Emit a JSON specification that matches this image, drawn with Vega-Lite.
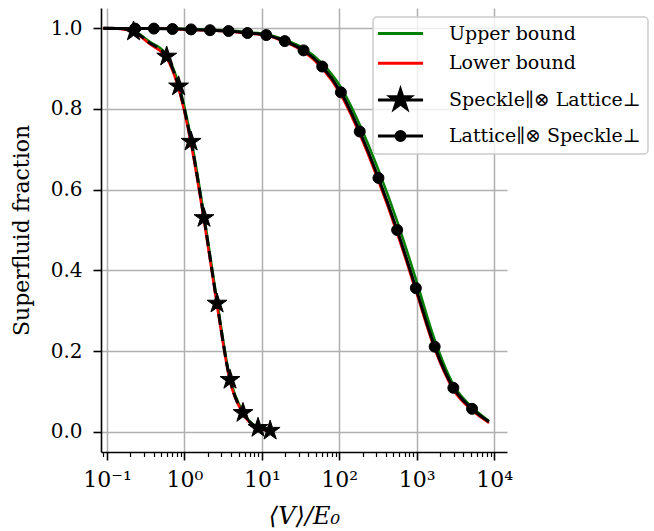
{
  "$schema": "https://vega.github.io/schema/vega-lite/v6.json",
  "autosize": {"type": "none"},
  "width": 406,
  "height": 444,
  "padding": {"left": 101, "top": 8, "right": 147, "bottom": 79},
  "background": "white",
  "config": {
    "view": {"stroke": null},
    "font": "DejaVu Serif",
    "axis": {"labelFont": "DejaVu Serif", "titleFont": "DejaVu Serif"},
    "legend": {"labelFont": "DejaVu Serif"}
  },
  "datasets": {
    "curves": [
      {"curve": "upper", "group": "A", "x": 0.09, "y": 1.0},
      {"curve": "upper", "group": "A", "x": 0.15, "y": 0.999},
      {"curve": "upper", "group": "A", "x": 0.22, "y": 0.993},
      {"curve": "upper", "group": "A", "x": 0.36, "y": 0.966},
      {"curve": "upper", "group": "A", "x": 0.59, "y": 0.934},
      {"curve": "upper", "group": "A", "x": 0.84, "y": 0.862},
      {"curve": "upper", "group": "A", "x": 1.22, "y": 0.726},
      {"curve": "upper", "group": "A", "x": 1.79, "y": 0.537},
      {"curve": "upper", "group": "A", "x": 2.64, "y": 0.324},
      {"curve": "upper", "group": "A", "x": 3.88, "y": 0.133},
      {"curve": "upper", "group": "A", "x": 5.71, "y": 0.049},
      {"curve": "upper", "group": "A", "x": 8.93, "y": 0.011},
      {"curve": "upper", "group": "A", "x": 12.8, "y": 0.003},
      {"curve": "lower", "group": "A", "x": 0.09, "y": 1.0},
      {"curve": "lower", "group": "A", "x": 0.15, "y": 0.998},
      {"curve": "lower", "group": "A", "x": 0.22, "y": 0.990},
      {"curve": "lower", "group": "A", "x": 0.36, "y": 0.960},
      {"curve": "lower", "group": "A", "x": 0.59, "y": 0.926},
      {"curve": "lower", "group": "A", "x": 0.84, "y": 0.850},
      {"curve": "lower", "group": "A", "x": 1.22, "y": 0.712},
      {"curve": "lower", "group": "A", "x": 1.79, "y": 0.523},
      {"curve": "lower", "group": "A", "x": 2.64, "y": 0.312},
      {"curve": "lower", "group": "A", "x": 3.88, "y": 0.125},
      {"curve": "lower", "group": "A", "x": 5.71, "y": 0.045},
      {"curve": "lower", "group": "A", "x": 8.93, "y": 0.009},
      {"curve": "lower", "group": "A", "x": 12.8, "y": 0.002},
      {"curve": "data", "group": "A", "x": 0.09, "y": 1.0},
      {"curve": "data", "group": "A", "x": 0.15, "y": 0.999},
      {"curve": "data", "group": "A", "x": 0.22, "y": 0.992},
      {"curve": "data", "group": "A", "x": 0.36, "y": 0.963},
      {"curve": "data", "group": "A", "x": 0.59, "y": 0.930},
      {"curve": "data", "group": "A", "x": 0.84, "y": 0.856},
      {"curve": "data", "group": "A", "x": 1.22, "y": 0.719},
      {"curve": "data", "group": "A", "x": 1.79, "y": 0.530},
      {"curve": "data", "group": "A", "x": 2.64, "y": 0.318},
      {"curve": "data", "group": "A", "x": 3.88, "y": 0.129},
      {"curve": "data", "group": "A", "x": 5.71, "y": 0.047},
      {"curve": "data", "group": "A", "x": 8.93, "y": 0.010},
      {"curve": "data", "group": "A", "x": 12.8, "y": 0.003},
      {"curve": "upper", "group": "B", "x": 0.09, "y": 1.0},
      {"curve": "upper", "group": "B", "x": 0.23, "y": 1.0},
      {"curve": "upper", "group": "B", "x": 0.403, "y": 1.0},
      {"curve": "upper", "group": "B", "x": 0.701, "y": 0.999},
      {"curve": "upper", "group": "B", "x": 1.22, "y": 0.998},
      {"curve": "upper", "group": "B", "x": 2.14, "y": 0.996},
      {"curve": "upper", "group": "B", "x": 3.72, "y": 0.994},
      {"curve": "upper", "group": "B", "x": 6.52, "y": 0.990},
      {"curve": "upper", "group": "B", "x": 11.4, "y": 0.985},
      {"curve": "upper", "group": "B", "x": 19.8, "y": 0.971},
      {"curve": "upper", "group": "B", "x": 34.6, "y": 0.950},
      {"curve": "upper", "group": "B", "x": 60.3, "y": 0.913},
      {"curve": "upper", "group": "B", "x": 105, "y": 0.854},
      {"curve": "upper", "group": "B", "x": 184, "y": 0.761},
      {"curve": "upper", "group": "B", "x": 321, "y": 0.649},
      {"curve": "upper", "group": "B", "x": 560, "y": 0.522},
      {"curve": "upper", "group": "B", "x": 977, "y": 0.379},
      {"curve": "upper", "group": "B", "x": 1710, "y": 0.228},
      {"curve": "upper", "group": "B", "x": 2980, "y": 0.117},
      {"curve": "upper", "group": "B", "x": 5200, "y": 0.061},
      {"curve": "upper", "group": "B", "x": 8600, "y": 0.027},
      {"curve": "lower", "group": "B", "x": 0.09, "y": 1.0},
      {"curve": "lower", "group": "B", "x": 0.23, "y": 0.999},
      {"curve": "lower", "group": "B", "x": 0.403, "y": 0.999},
      {"curve": "lower", "group": "B", "x": 0.701, "y": 0.998},
      {"curve": "lower", "group": "B", "x": 1.22, "y": 0.996},
      {"curve": "lower", "group": "B", "x": 2.14, "y": 0.994},
      {"curve": "lower", "group": "B", "x": 3.72, "y": 0.992},
      {"curve": "lower", "group": "B", "x": 6.52, "y": 0.987},
      {"curve": "lower", "group": "B", "x": 11.4, "y": 0.982},
      {"curve": "lower", "group": "B", "x": 19.8, "y": 0.966},
      {"curve": "lower", "group": "B", "x": 34.6, "y": 0.942},
      {"curve": "lower", "group": "B", "x": 60.3, "y": 0.900},
      {"curve": "lower", "group": "B", "x": 105, "y": 0.835},
      {"curve": "lower", "group": "B", "x": 184, "y": 0.737},
      {"curve": "lower", "group": "B", "x": 321, "y": 0.621},
      {"curve": "lower", "group": "B", "x": 560, "y": 0.492},
      {"curve": "lower", "group": "B", "x": 977, "y": 0.349},
      {"curve": "lower", "group": "B", "x": 1710, "y": 0.205},
      {"curve": "lower", "group": "B", "x": 2980, "y": 0.104},
      {"curve": "lower", "group": "B", "x": 5200, "y": 0.053},
      {"curve": "lower", "group": "B", "x": 8600, "y": 0.022},
      {"curve": "data", "group": "B", "x": 0.09, "y": 1.0},
      {"curve": "data", "group": "B", "x": 0.23, "y": 0.999},
      {"curve": "data", "group": "B", "x": 0.403, "y": 0.999},
      {"curve": "data", "group": "B", "x": 0.701, "y": 0.998},
      {"curve": "data", "group": "B", "x": 1.22, "y": 0.997},
      {"curve": "data", "group": "B", "x": 2.14, "y": 0.995},
      {"curve": "data", "group": "B", "x": 3.72, "y": 0.993},
      {"curve": "data", "group": "B", "x": 6.52, "y": 0.988},
      {"curve": "data", "group": "B", "x": 11.4, "y": 0.983},
      {"curve": "data", "group": "B", "x": 19.8, "y": 0.968},
      {"curve": "data", "group": "B", "x": 34.6, "y": 0.945},
      {"curve": "data", "group": "B", "x": 60.3, "y": 0.905},
      {"curve": "data", "group": "B", "x": 105, "y": 0.841},
      {"curve": "data", "group": "B", "x": 184, "y": 0.744},
      {"curve": "data", "group": "B", "x": 321, "y": 0.629},
      {"curve": "data", "group": "B", "x": 560, "y": 0.500},
      {"curve": "data", "group": "B", "x": 977, "y": 0.356},
      {"curve": "data", "group": "B", "x": 1710, "y": 0.211},
      {"curve": "data", "group": "B", "x": 2980, "y": 0.109},
      {"curve": "data", "group": "B", "x": 5200, "y": 0.057},
      {"curve": "data", "group": "B", "x": 8600, "y": 0.025}
    ],
    "markers": [
      {"label": "Speckle∥⊗ Lattice⊥", "x": 0.22, "y": 0.992},
      {"label": "Speckle∥⊗ Lattice⊥", "x": 0.59, "y": 0.930},
      {"label": "Speckle∥⊗ Lattice⊥", "x": 0.84, "y": 0.856},
      {"label": "Speckle∥⊗ Lattice⊥", "x": 1.22, "y": 0.719},
      {"label": "Speckle∥⊗ Lattice⊥", "x": 1.79, "y": 0.530},
      {"label": "Speckle∥⊗ Lattice⊥", "x": 2.64, "y": 0.318},
      {"label": "Speckle∥⊗ Lattice⊥", "x": 3.88, "y": 0.129},
      {"label": "Speckle∥⊗ Lattice⊥", "x": 5.71, "y": 0.047},
      {"label": "Speckle∥⊗ Lattice⊥", "x": 8.93, "y": 0.010},
      {"label": "Speckle∥⊗ Lattice⊥", "x": 12.8, "y": 0.003},
      {"label": "Lattice∥⊗ Speckle⊥", "x": 0.23, "y": 0.999},
      {"label": "Lattice∥⊗ Speckle⊥", "x": 0.403, "y": 0.999},
      {"label": "Lattice∥⊗ Speckle⊥", "x": 0.701, "y": 0.998},
      {"label": "Lattice∥⊗ Speckle⊥", "x": 1.22, "y": 0.997},
      {"label": "Lattice∥⊗ Speckle⊥", "x": 2.14, "y": 0.995},
      {"label": "Lattice∥⊗ Speckle⊥", "x": 3.72, "y": 0.993},
      {"label": "Lattice∥⊗ Speckle⊥", "x": 6.52, "y": 0.988},
      {"label": "Lattice∥⊗ Speckle⊥", "x": 11.4, "y": 0.983},
      {"label": "Lattice∥⊗ Speckle⊥", "x": 19.8, "y": 0.968},
      {"label": "Lattice∥⊗ Speckle⊥", "x": 34.6, "y": 0.945},
      {"label": "Lattice∥⊗ Speckle⊥", "x": 60.3, "y": 0.905},
      {"label": "Lattice∥⊗ Speckle⊥", "x": 105, "y": 0.841},
      {"label": "Lattice∥⊗ Speckle⊥", "x": 184, "y": 0.744},
      {"label": "Lattice∥⊗ Speckle⊥", "x": 321, "y": 0.629},
      {"label": "Lattice∥⊗ Speckle⊥", "x": 560, "y": 0.500},
      {"label": "Lattice∥⊗ Speckle⊥", "x": 977, "y": 0.356},
      {"label": "Lattice∥⊗ Speckle⊥", "x": 1710, "y": 0.211},
      {"label": "Lattice∥⊗ Speckle⊥", "x": 2980, "y": 0.109},
      {"label": "Lattice∥⊗ Speckle⊥", "x": 5200, "y": 0.057}
    ]
  },
  "resolve": {"axis": {"x": "independent"}},
  "layer": [
    {
      "data": {"name": "curves"},
      "transform": [{"filter": "datum.curve === 'upper'"}],
      "mark": {"type": "line", "color": "#008000", "strokeWidth": 2.5, "interpolate": "monotone"},
      "encoding": {
        "x": {
          "field": "x", "type": "quantitative",
          "scale": {"type": "log", "domain": [0.0836, 14700], "nice": false},
          "axis": {
            "values": [0.1, 1, 10, 100, 1000, 10000],
            "labelExpr": "datum.value < 0.5 ? '10⁻¹' : datum.value < 5 ? '10⁰' : datum.value < 50 ? '10¹' : datum.value < 500 ? '10²' : datum.value < 5000 ? '10³' : '10⁴'",
            "labelFlush": false, "labelOverlap": false,
            "grid": true, "gridColor": "#b0b0b0", "gridWidth": 1.5,
            "tickSize": 8, "tickWidth": 1.6, "tickColor": "black",
            "domainColor": "black", "domainWidth": 1.6,
            "labelFontSize": 22, "labelPadding": 9, "labelColor": "black",
            "title": "⟨V⟩/E₀", "titleFontSize": 24, "titleFontStyle": "italic",
            "titleFontWeight": "normal", "titlePadding": 14, "titleColor": "black"
          }
        },
        "y": {
          "field": "y", "type": "quantitative",
          "scale": {"domain": [-0.05, 1.05], "nice": false, "zero": false},
          "axis": {
            "values": [0, 0.2, 0.4, 0.6, 0.8, 1.0], "format": ".1f",
            "title": "Superfluid fraction",
            "grid": true, "gridColor": "#b0b0b0", "gridWidth": 1.5,
            "tickSize": 8, "tickWidth": 1.6, "tickColor": "black",
            "domainColor": "black", "domainWidth": 1.6,
            "labelFontSize": 20, "labelPadding": 11, "labelColor": "black",
            "titleFontSize": 22, "titleFontWeight": "normal", "titlePadding": 17, "titleColor": "black"
          }
        },
        "detail": {"field": "group", "type": "nominal"}
      }
    },
    {
      "data": {"name": "curves"},
      "transform": [{"filter": "datum.curve === 'lower'"}],
      "mark": {"type": "line", "color": "#ff0000", "strokeWidth": 2.5, "interpolate": "monotone"},
      "encoding": {
        "x": {"field": "x", "type": "quantitative", "axis": null},
        "y": {"field": "y", "type": "quantitative"},
        "detail": {"field": "group", "type": "nominal"}
      }
    },
    {
      "data": {"name": "curves"},
      "transform": [{"filter": "datum.curve === 'data' && datum.group === 'A'"}],
      "mark": {"type": "line", "color": "black", "strokeWidth": 3, "strokeDash": [11, 5], "interpolate": "monotone"},
      "encoding": {
        "x": {"field": "x", "type": "quantitative", "axis": null},
        "y": {"field": "y", "type": "quantitative"}
      }
    },
    {
      "data": {"name": "curves"},
      "transform": [{"filter": "datum.curve === 'data' && datum.group === 'B'"}],
      "mark": {"type": "line", "color": "black", "strokeWidth": 3, "interpolate": "monotone"},
      "encoding": {
        "x": {"field": "x", "type": "quantitative", "axis": null},
        "y": {"field": "y", "type": "quantitative"}
      }
    },
    {
      "data": {"name": "markers"},
      "transform": [{"filter": "indexof(datum.label, 'Speckle') === 0"}],
      "mark": {"type": "point", "filled": true, "color": "black", "stroke": "black", "strokeWidth": 1, "size": 121, "opacity": 1,
               "shape": "M0,-1.9L0.427,-0.587L1.807,-0.587L0.690,0.224L1.117,1.537L0,0.726L-1.117,1.537L-0.690,0.224L-1.807,-0.587L-0.427,-0.587Z"},
      "encoding": {
        "x": {
          "field": "x", "type": "quantitative",
          "axis": {
            "values": [0.09, 0.2, 0.3, 0.4, 0.5, 0.6, 0.7, 0.8, 0.9, 2, 3, 4, 5, 6, 7, 8, 9, 20, 30, 40, 50, 60, 70, 80, 90, 200, 300, 400, 500, 600, 700, 800, 900, 2000, 3000, 4000, 5000, 6000, 7000, 8000, 9000],
            "orient": "bottom", "labels": false, "domain": false, "grid": false, "title": null,
            "tickSize": 4.5, "tickWidth": 1.2, "tickColor": "black"
          }
        },
        "y": {"field": "y", "type": "quantitative"}
      }
    },
    {
      "data": {"name": "markers"},
      "transform": [{"filter": "indexof(datum.label, 'Lattice') === 0"}],
      "mark": {"type": "point", "filled": true, "color": "black", "stroke": "black", "strokeWidth": 1, "size": 121, "opacity": 1, "shape": "circle"},
      "encoding": {
        "x": {"field": "x", "type": "quantitative", "axis": null},
        "y": {"field": "y", "type": "quantitative"}
      }
    },
    {
      "data": {"name": "markers"},
      "mark": {"type": "point", "filled": true, "size": 121, "opacity": 0, "strokeWidth": 3},
      "encoding": {
        "x": {"field": "x", "type": "quantitative", "axis": null},
        "y": {"field": "y", "type": "quantitative"},
        "shape": {
          "field": "label", "type": "nominal",
          "scale": {
            "domain": ["Upper bound", "Lower bound", "Speckle∥⊗ Lattice⊥", "Lattice∥⊗ Speckle⊥"],
            "range": [
              "M-4.1,0H4.1",
              "M-4.1,0H4.1",
              "M-4.1,0H4.1M0,-1.9L0.427,-0.587L1.807,-0.587L0.690,0.224L1.117,1.537L0,0.726L-1.117,1.537L-0.690,0.224L-1.807,-0.587L-0.427,-0.587Z",
              "M-4.1,0H4.1M0.82,0A0.82,0.82,0,1,1,-0.82,0A0.82,0.82,0,1,1,0.82,0Z"
            ]
          },
          "legend": {
            "title": null, "orient": "none", "legendX": 272, "legendY": 9,
            "padding": 7, "rowPadding": 9.8, "symbolSize": 121, "symbolStrokeWidth": 3, "symbolOpacity": 1,
            "symbolOffset": 11, "labelOffset": 39, "labelLimit": 400,
            "labelFont": "DejaVu Serif", "labelFontSize": 19, "labelColor": "black",
            "fillColor": "rgba(255,255,255,0.8)", "strokeColor": "#cccccc", "cornerRadius": 4,
            "encoding": {
              "legend": {"strokeWidth": {"value": 1.5}},
              "symbols": {
                "stroke": {"value": {"expr": "datum.value === 'Upper bound' ? '#008000' : datum.value === 'Lower bound' ? '#ff0000' : 'black'"}},
                "fill": {"value": {"expr": "datum.value === 'Upper bound' ? '#008000' : datum.value === 'Lower bound' ? '#ff0000' : 'black'"}},
                "strokeWidth": {"value": 3},
                "opacity": {"value": 1}
              }
            }
          }
        },
        "color": {
          "field": "label", "type": "nominal",
          "scale": {
            "domain": ["Upper bound", "Lower bound", "Speckle∥⊗ Lattice⊥", "Lattice∥⊗ Speckle⊥"],
            "range": ["#008000", "#ff0000", "black", "black"]
          },
          "legend": {
            "title": null, "orient": "none", "legendX": 272, "legendY": 9,
            "padding": 7, "rowPadding": 9.8, "symbolSize": 121, "symbolStrokeWidth": 3, "symbolOpacity": 1,
            "symbolOffset": 11, "labelOffset": 39, "labelLimit": 400,
            "labelFont": "DejaVu Serif", "labelFontSize": 19, "labelColor": "black",
            "fillColor": "rgba(255,255,255,0.8)", "strokeColor": "#cccccc", "cornerRadius": 4,
            "encoding": {
              "legend": {"strokeWidth": {"value": 1.5}},
              "symbols": {
                "stroke": {"value": {"expr": "datum.value === 'Upper bound' ? '#008000' : datum.value === 'Lower bound' ? '#ff0000' : 'black'"}},
                "fill": {"value": {"expr": "datum.value === 'Upper bound' ? '#008000' : datum.value === 'Lower bound' ? '#ff0000' : 'black'"}},
                "strokeWidth": {"value": 3},
                "opacity": {"value": 1}
              }
            }
          }
        }
      }
    }
  ]
}
